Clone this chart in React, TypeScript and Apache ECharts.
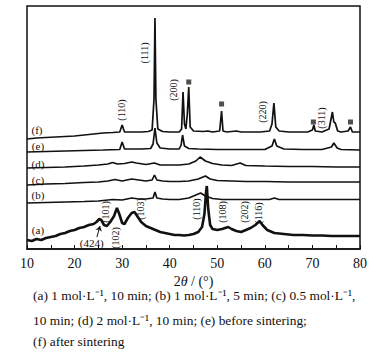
import React, { useEffect, useRef } from "react";
import * as echarts from "echarts";

const FONT = '"Liberation Serif", "Times New Roman", serif';

// XRD curves: [2θ (°), relative intensity (offset stacked)]
const curveA: [number, number][] = [
  [10, 9], [11, 8], [12, 10], [13, 9], [14, 11], [15, 12], [16, 13], [17, 15], [18, 16], [19, 18],
  [20, 19], [21, 21], [22, 22], [23, 24], [24, 25], [24.6, 27], [25.2, 30], [25.6, 29], [26.2, 24],
  [26.8, 23], [27.5, 27], [28.3, 33], [28.9, 41], [29.4, 35], [30, 26], [30.5, 25], [31.2, 31],
  [32, 36], [32.6, 37], [33.3, 32], [34, 27], [35, 23], [36, 21], [37, 19], [38, 17], [39, 16],
  [40, 15], [41, 14], [42, 14], [43, 13.5], [44, 14], [45, 15], [46, 17], [46.8, 22], [47.3, 35],
  [47.6, 55], [47.8, 63], [48.1, 40], [48.5, 24], [49, 20], [50, 19], [51, 20], [52.3, 22], [53, 20],
  [54, 18], [55, 17], [56, 19], [57, 21], [58, 24], [58.9, 28], [59.5, 24], [60.5, 19], [62, 16],
  [64, 15], [66, 14], [68, 14], [70, 13.5], [72, 13.5], [74, 13], [76, 13], [78, 13], [80, 13],
];
const curveB: [number, number][] = [
  [10, 46], [14, 46.5], [18, 47], [22, 47.5], [25, 48], [28, 49.5], [30, 49], [32, 51], [33.5, 50],
  [35, 50], [36.5, 51], [36.9, 57], [37.3, 51], [38.5, 50], [40, 49.5], [42, 49.5], [44, 51],
  [45.5, 54], [46.5, 56], [47.5, 53], [49, 50.5], [51, 49.5], [55, 49.5], [58, 49.5], [61, 49.5],
  [62, 51], [63, 49.5], [66, 49.5], [70, 49.5], [75, 49.5], [80, 49.5],
];
const curveC: [number, number][] = [
  [10, 64], [14, 65], [18, 65.5], [22, 66.5], [25, 67], [27, 68], [28.5, 69.5], [30, 68], [32, 70],
  [33.5, 69], [35, 68], [36.3, 69], [36.8, 74], [37.3, 69], [38.5, 68], [40, 67.5], [42, 67.5],
  [44, 68], [46, 70], [47.5, 73], [48.5, 70], [50, 68.5], [53, 68], [56, 67.5], [60, 67.5],
  [65, 67], [70, 67], [75, 67], [80, 67],
];
const curveD: [number, number][] = [
  [10, 81], [14, 81.5], [18, 82], [22, 83], [25, 84], [27, 85], [28, 86.5], [29, 85], [30.5, 85.5],
  [32, 87], [33, 86], [35, 84.5], [36.8, 86], [38, 84], [40, 84], [42, 84], [44, 85], [45.5, 88],
  [46.4, 92], [47.5, 88], [49, 85.5], [51, 84], [53, 83.5], [54.8, 86], [56, 83.5], [60, 83],
  [65, 82.5], [70, 82.5], [75, 82], [80, 82],
];
const curveE: [number, number][] = [
  [10, 97], [14, 97.5], [18, 98], [22, 98.5], [26, 99], [29.5, 99.5], [30, 107], [30.5, 100],
  [32, 100], [34, 100], [36, 100.5], [36.5, 105], [36.9, 121], [37.3, 106], [38, 101], [40, 100],
  [42, 100], [42.4, 104], [42.7, 114], [43.1, 103], [44, 100.5], [46, 100], [50, 99.5], [55, 99.5],
  [60, 99.5], [61.5, 103], [62, 110], [62.5, 103], [64, 100], [68, 99.5], [72, 99.5], [74, 102],
  [74.5, 106], [75.2, 101], [76, 99.5], [80, 99],
];
const curveF: [number, number][] = [
  [10, 110], [12, 111], [14, 111.5], [16, 112], [18, 112.5], [20, 113], [22, 114], [24, 115],
  [26, 116], [28, 116.5], [29.5, 117], [30, 124], [30.5, 117], [32, 117], [34, 117], [35.5, 117.5],
  [36.3, 119], [36.7, 150], [36.9, 231], [37.1, 150], [37.5, 120], [38.5, 117.5], [40, 117],
  [42, 117], [42.5, 120], [42.8, 157], [43.1, 125], [43.4, 120], [43.7, 135], [44.0, 162],
  [44.3, 122], [45, 118], [47, 117.5], [48, 118], [49, 117], [50.5, 118], [50.9, 138], [51.2, 118],
  [52, 117], [53, 117.5], [54, 118], [55, 117], [57, 117], [59, 117], [61, 118], [61.5, 125],
  [61.9, 146], [62.3, 122], [63, 118], [65, 117], [67, 117], [69, 117], [70, 119], [70.3, 124],
  [70.6, 118], [72, 117], [73.5, 120], [74.2, 137], [74.5, 127], [74.8, 126], [75.3, 118], [76, 117],
  [77.5, 118], [78, 122], [78.4, 117], [80, 117],
];

const curveLabels = [
  { name: "(a)", value: [12.3, 19] },
  { name: "(b)", value: [12.3, 54] },
  { name: "(c)", value: [12.3, 69] },
  { name: "(d)", value: [12.3, 85] },
  { name: "(e)", value: [12.3, 103] },
  { name: "(f)", value: [12.1, 119] },
  { name: "(424)", value: [23.6, 6] },
];
const peakLabels = [
  { name: "(110)", value: [29.9, 139] },
  { name: "(111)", value: [34.6, 196] },
  { name: "(200)", value: [40.9, 159] },
  { name: "(220)", value: [59.5, 137] },
  { name: "(311)", value: [72.0, 131] },
  { name: "(101)", value: [26.4, 37] },
  { name: "(102)", value: [28.5, 11] },
  { name: "(103)", value: [33.9, 40] },
  { name: "(110)", value: [45.7, 40] },
  { name: "(108)", value: [51.2, 37] },
  { name: "(202)", value: [55.8, 37] },
  { name: "(116)", value: [58.6, 36] },
];
const arrow424 = [[24.7, 12], [25.35, 23]];
const squareMarks: [number, number][] = [[44.0, 167], [50.9, 145], [70.2, 127], [78.0, 127]];

const xTicks = { min: 10, max: 80, interval: 10 };

const captionLines = [
  "(a) 1 mol·L⁻¹, 10 min; (b) 1 mol·L⁻¹, 5 min; (c) 0.5 mol·L⁻¹,",
  "10 min; (d) 2 mol·L⁻¹, 10 min; (e) before sintering;",
  "(f) after sintering",
];

export default function App() {
  const ref = useRef<HTMLDivElement>(null);
  useEffect(() => {
    if (!ref.current) return;
    const chart = echarts.init(ref.current, null, { renderer: "svg" });
    const lineSeries = (data: [number, number][], width: number) => ({
      type: "line",
      data,
      showSymbol: false,
      symbol: "none",
      lineStyle: { color: "#111", width },
      silent: true,
    });
    const captionGraphics = captionLines.map((t, i) => ({
      type: "text",
      left: 33,
      top: [289, 314, 335][i],
      style: { text: t, fontFamily: FONT, fontSize: 13.4, fill: "#111" },
    }));
    chart.setOption({
      animation: false,
      backgroundColor: "#fff",
      grid: {
        left: 27, top: 6, right: 21, bottom: 110,
        show: true, borderColor: "#111", borderWidth: 1.5, backgroundColor: "transparent",
      },
      xAxis: {
        type: "value",
        min: xTicks.min, max: xTicks.max, interval: xTicks.interval,
        axisLine: { show: true, lineStyle: { color: "#111", width: 1.5 } },
        axisTick: { show: true, inside: true, length: 4, lineStyle: { color: "#111" } },
        minorTick: { show: true, splitNumber: 2, length: 4, lineStyle: { color: "#111" } },
        splitLine: { show: false },
        axisLabel: { fontFamily: FONT, fontSize: 14, color: "#111", margin: 7 },
        name: "2{i|θ} / (°)",
        nameLocation: "middle",
        nameGap: 13,
        nameTextStyle: {
          fontFamily: FONT, fontSize: 14, color: "#111",
          rich: { i: { fontFamily: FONT, fontSize: 14, fontStyle: "italic", color: "#111" } },
        },
      },
      yAxis: {
        type: "value", min: 0, max: 243,
        axisLine: { show: false }, axisTick: { show: false }, axisLabel: { show: false },
        splitLine: { show: false },
      },
      series: [
        {
          ...lineSeries(curveA, 2.6),
          markLine: {
            silent: true, symbol: ["none", "arrow"], symbolSize: 5,
            label: { show: false },
            lineStyle: { color: "#111", width: 1, type: "solid" },
            data: [[{ coord: arrow424[0] }, { coord: arrow424[1] }]],
          },
        },
        lineSeries(curveB, 1.7),
        lineSeries(curveC, 1.7),
        lineSeries(curveD, 1.7),
        lineSeries(curveE, 1.7),
        lineSeries(curveF, 1.7),
        {
          type: "scatter", data: squareMarks, symbol: "rect", symbolSize: 5,
          itemStyle: { color: "#222" }, silent: true,
        },
      ],
      graphic: captionGraphics,
    });
    // place annotation texts through the chart's own scales
    const annot: any[] = [];
    peakLabels.forEach((p) => {
      const [px, py] = chart.convertToPixel({ gridIndex: 0 }, p.value) as number[];
      annot.push({
        type: "text", x: px, y: py, rotation: Math.PI / 2, silent: true,
        style: {
          text: p.name, fontFamily: FONT, fontSize: 10, fill: "#111",
          align: "center", verticalAlign: "middle",
        },
      });
    });
    curveLabels.forEach((p) => {
      const [px, py] = chart.convertToPixel({ gridIndex: 0 }, p.value) as number[];
      annot.push({
        type: "text", x: px, y: py, silent: true,
        style: {
          text: p.name, fontFamily: FONT, fontSize: 11, fill: "#111",
          align: "center", verticalAlign: "middle",
        },
      });
    });
    chart.setOption({ graphic: [...captionGraphics, ...annot] }, { replaceMerge: ["graphic"] });
    return () => chart.dispose();
  }, []);
  return (
    <div
      ref={ref}
      style={{ position: "absolute", left: 0, top: 0, width: 381, height: 359, background: "#fff" }}
    />
  );
}
